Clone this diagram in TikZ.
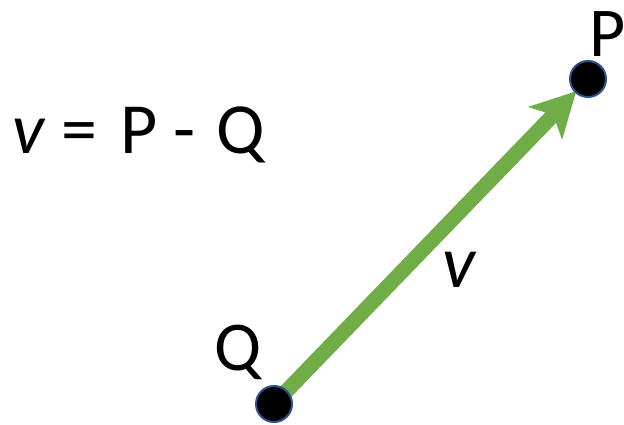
\documentclass[tikz,border=0pt]{standalone}
\usepackage{fontspec}
\setmainfont{Carlito}
\usetikzlibrary{arrows.meta}
\definecolor{vgreen}{HTML}{70AD47}
\definecolor{ptblue}{HTML}{2F528F}
\tikzset{
  pt/.style={circle, fill=black, draw=ptblue, line width=2pt, minimum size=36pt, inner sep=0pt},
  vec/.style={draw=vgreen, line width=15pt, -{Stealth[length=44pt, width=46pt, inset=11pt, fill=vgreen]}},
  lbl/.style={anchor=base west, inner sep=0pt, text=black}
}
\begin{document}
\begin{tikzpicture}[x=1pt,y=1pt]
\useasboundingbox (0,0) rectangle (624,424);
\coordinate (Qc) at (274,20);
\coordinate (Pc) at (588,345);
\draw[vec, shorten >=17pt] (Qc) -- (Pc);
\node[pt] (Q) at (Qc) {};
\node[pt] (P) at (Pc) {};
\node[lbl] (Plbl) at (589,367) {\fontsize{70}{72}\selectfont P};
\node[lbl] (Qlbl) at (214,54) {\fontsize{70}{72}\selectfont Q};
\node[lbl] (vlbl) at (442,137) {\fontsize{74}{76}\selectfont\itshape v};
\node[lbl] (eq) at (12,271) {\fontsize{72}{74}\selectfont{\itshape v}\hspace{17pt}=\hspace{23pt}P\hspace{16pt}-\hspace{21pt}Q};
\end{tikzpicture}
\end{document}
